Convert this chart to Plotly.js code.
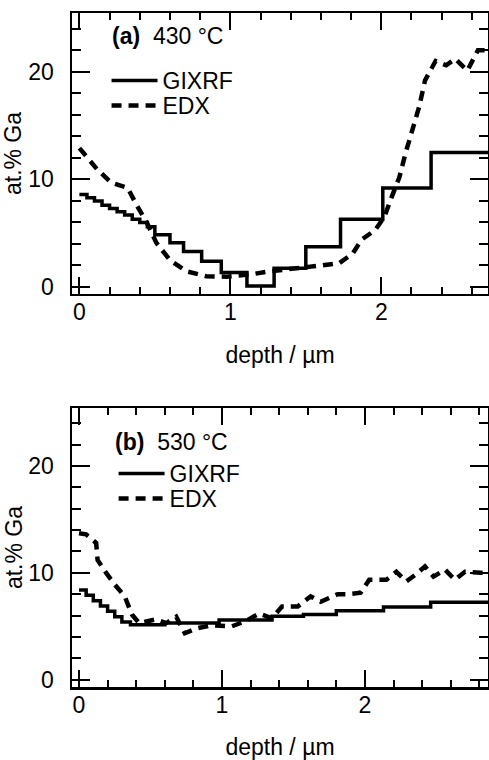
<!DOCTYPE html>
<html>
<head>
<meta charset="utf-8">
<script src="https://cdn.plot.ly/plotly-3.0.1.min.js"></script>
<style>
html, body { margin: 0; padding: 0; overflow: hidden; background: #fff; }
#chart { width: 492px; height: 760px; }
</style>
</head>
<body>
<div id="chart"></div>
<script>
// ---- Panel (a) 430 °C ----
const gixA_x = [0, 0.05, 0.10, 0.15, 0.20, 0.25, 0.30, 0.35, 0.40, 0.45, 0.50, 0.60, 0.69, 0.81, 0.94, 1.11, 1.29, 1.50, 1.73, 2.01, 2.33, 2.75];
const gixA_y = [8.6, 8.3, 8.0, 7.6, 7.3, 7.0, 6.7, 6.3, 6.0, 5.6, 4.85, 4.1, 3.3, 2.4, 1.35, 0.1, 1.75, 3.75, 6.3, 9.2, 12.5, 12.5];
const edxA_x = [0.00, 0.12, 0.21, 0.32, 0.38, 0.45, 0.51, 0.60, 0.71, 0.84, 0.975, 1.08, 1.15, 1.24, 1.35, 1.50, 1.63, 1.72, 1.81, 1.87, 1.96, 2.02, 2.07, 2.12, 2.16, 2.20, 2.25, 2.29, 2.36, 2.43, 2.49, 2.57, 2.64, 2.72];
const edxA_y = [12.9, 10.9, 9.7, 9.2, 7.6, 5.9, 4.1, 2.5, 1.45, 1.0, 0.96, 1.1, 1.2, 1.42, 1.6, 1.74, 2.04, 2.2, 3.1, 4.4, 5.3, 6.5, 8.4, 10.2, 12.4, 14.3, 16.7, 19.2, 21.0, 20.6, 21.2, 20.1, 22.0, 22.0];

// ---- Panel (b) 530 °C ----
const gixB_x = [0, 0.05, 0.10, 0.15, 0.20, 0.25, 0.30, 0.36, 0.60, 0.98, 1.35, 1.57, 1.80, 2.13, 2.46, 2.87];
const gixB_y = [8.4, 7.9, 7.4, 6.9, 6.4, 5.9, 5.4, 5.15, 5.3, 5.6, 5.95, 6.1, 6.45, 6.8, 7.25, 7.25];
const edxB_x = [0.00, 0.05, 0.12, 0.13, 0.19, 0.25, 0.32, 0.37, 0.42, 0.54, 0.61, 0.68, 0.74, 0.82, 0.93, 1.07, 1.16, 1.26, 1.35, 1.42, 1.53, 1.62, 1.69, 1.81, 1.88, 1.97, 2.03, 2.15, 2.22, 2.29, 2.35, 2.42, 2.48, 2.56, 2.63, 2.70, 2.81, 2.87];
const edxB_y = [13.7, 13.6, 12.8, 11.2, 10.0, 8.9, 7.8, 6.1, 5.3, 5.65, 5.3, 5.9, 4.35, 4.8, 5.1, 5.0, 5.45, 6.2, 5.75, 6.85, 6.85, 7.8, 7.3, 8.0, 8.0, 8.15, 9.35, 9.35, 10.1, 9.2, 9.8, 10.6, 9.65, 10.3, 9.35, 10.1, 10.0, 10.0];

const labels = { depth: 'depth / µm', ga: 'at.% Ga', gix: 'GIXRF', edx: 'EDX', a: '<b>(a)</b>  430 °C', b: '<b>(b)</b>  530 °C' };
const FONT = 'Liberation Sans, Arial, Helvetica, sans-serif';
const FS = 23;
const DASH = '10px,7px';

const traces = [
  { x: gixA_x, y: gixA_y, name: labels.gix, mode: 'lines', line: { shape: 'hv', color: '#000', width: 3.5 }, xaxis: 'x', yaxis: 'y', legend: 'legend' },
  { x: edxA_x, y: edxA_y, name: labels.edx, mode: 'lines', line: { color: '#000', width: 4.5, dash: DASH }, xaxis: 'x', yaxis: 'y', legend: 'legend2' },
  { x: gixB_x, y: gixB_y, name: labels.gix, mode: 'lines', line: { shape: 'hv', color: '#000', width: 3.5 }, xaxis: 'x2', yaxis: 'y2', legend: 'legend3' },
  { x: edxB_x, y: edxB_y, name: labels.edx, mode: 'lines', line: { color: '#000', width: 4.5, dash: DASH }, xaxis: 'x2', yaxis: 'y2', legend: 'legend4' }
];

function xAxis(range, anchor) {
  return {
    range: range, anchor: anchor, domain: [0, 1], automargin: false,
    showline: true, linecolor: '#000', linewidth: 2.5, mirror: 'ticks',
    ticks: 'inside', ticklen: 17, tickwidth: 2, tickcolor: '#000',
    tick0: 0, dtick: 1, showgrid: false, zeroline: false,
    ticklabelstandoff: -4,
    minor: { ticks: 'inside', dtick: 0.2, tick0: 0, ticklen: 7, tickwidth: 2, tickcolor: '#000', showgrid: false },
    tickfont: { family: FONT, size: FS, color: '#000' },
    title: { text: labels.depth, font: { family: FONT, size: FS, color: '#000' }, standoff: 23 }
  };
}
function yAxis(range, anchor, domain) {
  return {
    range: range, anchor: anchor, domain: domain, automargin: true,
    showline: true, linecolor: '#000', linewidth: 2.5, mirror: 'ticks',
    ticks: 'inside', ticklen: 18, tickwidth: 2, tickcolor: '#000',
    tick0: 0, dtick: 10, showgrid: false, zeroline: false,
    ticklabelstandoff: 11,
    minor: { ticks: 'inside', dtick: 2, tick0: 0, ticklen: 9, tickwidth: 2, tickcolor: '#000', showgrid: false },
    tickfont: { family: FONT, size: FS, color: '#000' },
    title: { text: labels.ga, font: { family: FONT, size: FS, color: '#000' }, standoff: 0 }
  };
}
function leg(x, y) {
  return { x: x, y: y, xanchor: 'left', yanchor: 'top', bgcolor: 'rgba(0,0,0,0)', borderwidth: 0, itemwidth: 46, tracegroupgap: 0, font: { family: FONT, size: FS, color: '#000' } };
}

const layout = {
  width: 492, height: 760,
  margin: { l: 72, r: 1, t: 13, b: 73 },
  paper_bgcolor: '#fff', plot_bgcolor: '#fff',
  font: { family: FONT, size: FS, color: '#000' },
  xaxis: xAxis([-0.049, 2.707], 'y'),
  yaxis: yAxis([-0.65, 25.46], 'x', [0.5831, 1]),
  xaxis2: xAxis([-0.049, 2.861], 'y2'),
  yaxis2: yAxis([-0.68, 25.42], 'x2', [0, 0.4139]),
  showlegend: true,
  legend: leg(0.083, 0.9318),
  legend2: leg(0.083, 0.8947),
  legend3: leg(0.1, 0.3487),
  legend4: leg(0.1, 0.3116),
  annotations: [
    { text: labels.a, xref: 'paper', yref: 'paper', x: 0.0907, y: 0.966, xanchor: 'left', yanchor: 'middle', showarrow: false, font: { family: FONT, size: FS, color: '#000' } },
    { text: labels.b, xref: 'paper', yref: 'paper', x: 0.098, y: 0.3635, xanchor: 'left', yanchor: 'middle', showarrow: false, font: { family: FONT, size: FS, color: '#000' } }
  ]
};
Plotly.newPlot('chart', traces, layout, { staticPlot: true, displayModeBar: false });
</script>
</body>
</html>
